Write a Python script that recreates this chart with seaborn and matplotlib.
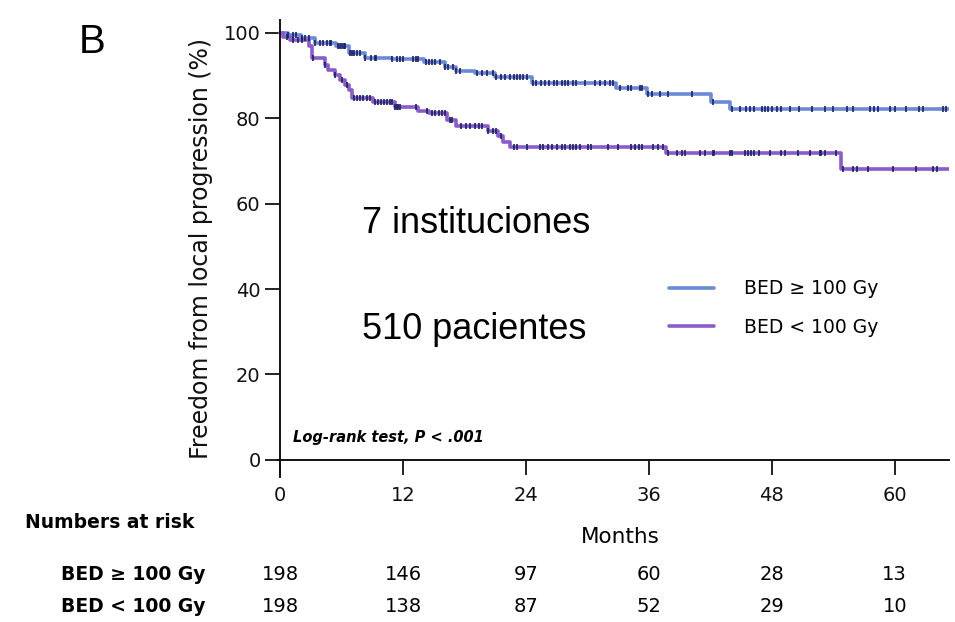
import numpy as np
import pandas as pd
import matplotlib
matplotlib.use("Agg")
import matplotlib.pyplot as plt
from matplotlib.lines import Line2D
import seaborn as sns

# ---------------- data ----------------
groups = ["BED ≥ 100 Gy", "BED < 100 Gy"]

hi_time = [0, 0.8, 2.0, 3.4, 5.5, 6.7, 8.3, 10.9, 14.1, 16.1, 17.2, 19.0, 21.0,
           24.6, 32.8, 35.8, 42.1, 43.9, 65.5]
hi_surv = [100, 99.6, 98.9, 97.6, 96.8, 95.2, 94.2, 93.8, 93.1, 92.1, 91.1, 90.6, 89.6,
           88.2, 87.0, 85.7, 83.9, 82.1, 82.1]

lo_time = [0, 0.3, 1.0, 2.8, 3.1, 4.4, 4.7, 5.4, 5.9, 6.3, 6.7, 7.0, 9.1, 11.2, 13.5,
           14.5, 16.3, 17.2, 20.3, 21.3, 21.8, 22.4, 37.7, 54.8, 65.5]
lo_surv = [100, 99.0, 98.4, 96.8, 94.0, 92.5, 91.3, 90.2, 89.0, 87.8, 86.7, 84.8, 83.9, 82.7, 81.7,
           81.2, 79.6, 78.1, 77.0, 75.8, 74.5, 73.2, 71.8, 68.1, 68.1]

hi_censor = [0.8, 1.3, 1.6, 2.1, 2.4, 2.8, 3.4, 3.9, 4.2, 4.6, 4.9, 5.0, 5.7, 5.9, 6.0, 6.2, 6.3,
             6.8, 7.0, 7.2, 7.5, 7.8, 8.3, 8.9, 9.3, 9.4, 10.9, 11.4, 11.7, 12.0, 13.0, 13.3,
             13.5, 14.2, 14.5, 14.8, 15.1, 15.6, 16.1, 16.4, 16.9, 17.2, 17.6, 19.2, 19.7,
             20.2, 20.8, 21.1, 21.6, 22.0, 22.4, 22.8, 23.1, 23.4, 23.7, 24.1, 24.7, 25.0,
             25.5, 25.9, 26.3, 26.7, 27.0, 27.5, 27.8, 28.1, 28.6, 28.9, 29.8, 30.7, 31.2,
             31.7, 32.2, 32.5, 33.2, 34.0, 34.3, 35.1, 35.3, 35.9, 36.3, 37.1, 37.9, 40.2,
             42.3, 44.1, 44.9, 45.5, 45.9, 46.3, 47.0, 47.3, 47.6, 48.0, 48.5, 48.9, 49.8,
             50.7, 51.9, 53.2, 54.0, 55.3, 55.9, 57.6, 58.0, 58.4, 59.5, 60.0, 61.1, 62.4,
             62.8, 64.7, 65.0]
lo_censor = [0.65, 1.3, 1.8, 2.1, 3.25, 4.4, 5.4, 6.0, 6.5, 7.2, 7.5, 7.8, 8.1, 8.5, 8.8, 9.3,
             9.6, 9.9, 10.1, 10.4, 10.7, 10.9, 11.2, 11.4, 11.5, 11.7, 13.3, 14.3, 14.8, 15.1,
             15.5, 15.8, 16.1, 16.6, 16.8, 17.7, 18.2, 18.5, 19.0, 19.4, 19.7, 20.3, 20.8,
             21.1, 21.6, 22.8, 23.1, 24.1, 25.4, 25.7, 26.2, 26.5, 27.0, 27.5, 27.8, 28.3,
             28.6, 28.9, 29.3, 30.1, 30.4, 32.0, 33.0, 34.3, 34.6, 35.0, 35.3, 36.4, 36.9,
             37.4, 37.9, 38.7, 39.2, 39.5, 41.0, 41.5, 42.3, 42.4, 43.9, 44.1, 45.4, 45.7,
             46.0, 46.3, 46.8, 47.8, 48.9, 49.3, 50.6, 51.7, 52.7, 52.8, 53.2, 54.3, 55.0,
             55.9, 56.3, 57.4, 59.8, 62.1, 63.7, 64.1]

risk_months = [0, 12, 24, 36, 48, 60]
risk_hi = [198, 146, 97, 60, 28, 13]
risk_lo = [198, 138, 87, 52, 29, 10]

x_ticks = [0, 12, 24, 36, 48, 60]
y_ticks = [0, 20, 40, 60, 80, 100]

# ---------------- build frames ----------------
curve_df = pd.concat([
    pd.DataFrame({"time": hi_time, "surv": hi_surv, "group": groups[0]}),
    pd.DataFrame({"time": lo_time, "surv": lo_surv, "group": groups[1]}),
], ignore_index=True)


def step_value(times, survs, t):
    idx = np.searchsorted(np.asarray(times), t, side="right") - 1
    return np.asarray(survs)[idx]


cens_df = pd.concat([
    pd.DataFrame({"time": hi_censor, "surv": step_value(hi_time, hi_surv, hi_censor), "group": groups[0]}),
    pd.DataFrame({"time": lo_censor, "surv": step_value(lo_time, lo_surv, lo_censor), "group": groups[1]}),
], ignore_index=True)

# ---------------- style ----------------
sns.set_style("white")
plt.rcParams["font.family"] = ["DejaVu Sans"]
plt.rcParams["text.color"] = "#000000"
plt.rcParams["axes.labelcolor"] = "#000000"

blue = "#6b8ad6"
purple = "#8a5cc8"
navy = "#1c1f66"
ink = "#111111"

fig = plt.figure(figsize=(9.55, 6.22), dpi=100)
ax = fig.add_axes([278 / 955, 1 - 477 / 622, 671 / 955, 457 / 622])

sns.lineplot(data=curve_df, x="time", y="surv", hue="group", palette=[blue, purple],
             drawstyle="steps-post", estimator=None, sort=False, linewidth=2.6,
             legend=False, ax=ax)
sns.scatterplot(data=cens_df, x="time", y="surv", marker="|", color=navy, s=17,
                linewidth=1.2, legend=False, ax=ax, zorder=3)

ax.set_xlim(-0.2, 65.3)
ax.set_ylim(-4, 103)
ax.set_xticks(x_ticks)
ax.set_yticks(y_ticks)
ax.spines["top"].set_visible(False)
ax.spines["right"].set_visible(False)
ax.spines["bottom"].set_position(("data", 0))
ax.spines["left"].set_position(("data", 0))
for s in ("left", "bottom"):
    ax.spines[s].set_linewidth(1.4)
    ax.spines[s].set_color(ink)
ax.tick_params(axis="both", direction="out", length=11, width=1.3, colors=ink,
               labelsize=14, labelcolor=ink, bottom=True, left=True)
ax.tick_params(axis="x", pad=8)
ax.tick_params(axis="y", pad=3)
ax.set_xlabel("")
ax.set_ylabel("Freedom from local progression (%)", fontsize=17, color=ink, labelpad=8)
ax.grid(False)

# Legend
handles = [Line2D([0], [0], color=blue, lw=2.6), Line2D([0], [0], color=purple, lw=2.6)]
ax.legend(handles, groups, loc="upper left", bbox_to_anchor=(0.571, 0.449), frameon=False,
          fontsize=13.5, handlelength=2.4, handletextpad=1.6, labelspacing=1.05,
          borderaxespad=0, borderpad=0.4)

# Annotations
ax.text(0.125, 0.555, "7 instituciones", transform=ax.transAxes, fontsize=26,
        family="Liberation Sans", va="center", ha="left", color="#000000")
ax.text(0.125, 0.323, "510 pacientes", transform=ax.transAxes, fontsize=26,
        family="Liberation Sans", va="center", ha="left", color="#000000")
ax.text(0.022, 0.087, "Log-rank test, P < .001", transform=ax.transAxes, fontsize=10.5,
        style="italic", weight="bold", va="center", ha="left", color="#000000")

fig.text(79 / 955, 1 - 42 / 622, "B", fontsize=29,
         family=["Liberation Sans Narrow", "Liberation Sans"], va="center", ha="left")

# Months label and numbers at risk
fig.text(620 / 955, 1 - 537 / 622, "Months", fontsize=15.5, ha="center", va="center")
fig.text(25 / 955, 1 - 522 / 622, "Numbers at risk", fontsize=13.5, weight="bold", ha="left", va="center")
row_y = [574, 607]
for lab, vals, yy in zip(groups, [risk_hi, risk_lo], row_y):
    fig.text(205 / 955, 1 - yy / 622, lab, fontsize=13.5, weight="bold", ha="right", va="center")
    for m, v in zip(risk_months, vals):
        xd = ax.transData.transform((m, 0))[0]
        xf = fig.transFigure.inverted().transform((xd, 0))[0]
        fig.text(xf, 1 - yy / 622, str(v), fontsize=14, ha="center", va="center")

fig.savefig("out.png", dpi=100, facecolor="white")
